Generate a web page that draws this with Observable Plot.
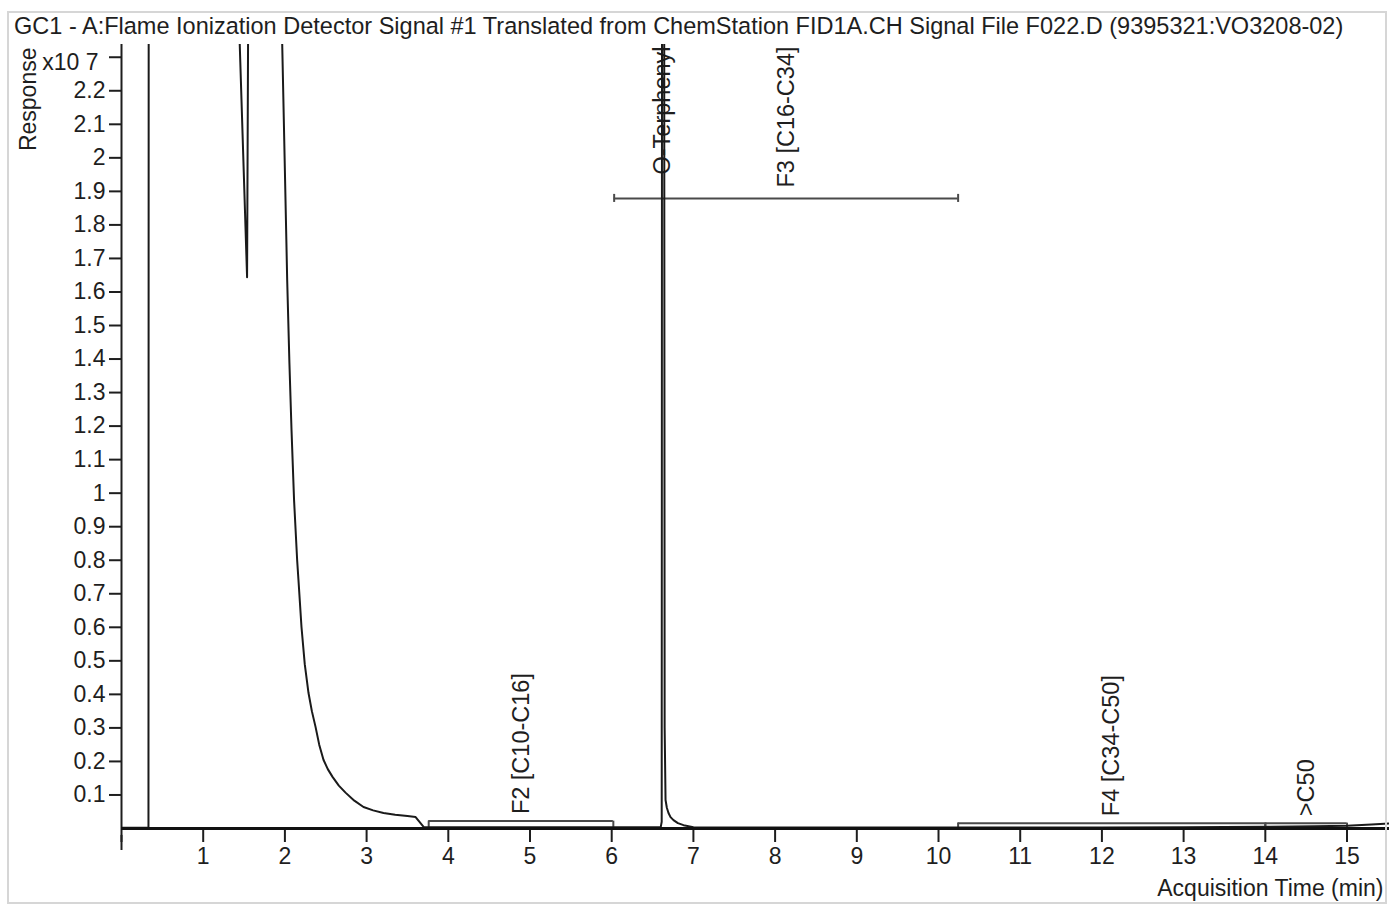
<!DOCTYPE html>
<html><head><meta charset="utf-8">
<script src="https://cdn.jsdelivr.net/npm/d3@7"></script>
<script src="https://cdn.jsdelivr.net/npm/@observablehq/plot@0.6"></script>
<style>
html,body{margin:0;padding:0;background:#fff;overflow:hidden;}
#wrap{position:relative;width:1389px;height:906px;font-family:"Liberation Sans",Arial,sans-serif;}
#title{height:40px;box-sizing:border-box;padding:14.5px 0 0 14px;font-size:23px;line-height:23px;color:#1e1e1e;white-space:nowrap;}
#frame{position:absolute;left:7px;top:11px;width:1376px;height:889px;border:2px solid #d6d6d6;pointer-events:none;}
svg{display:block}
</style></head><body>
<div id="wrap"><div id="frame"></div><div id="title"></div><div id="chart"></div></div>
<script>
// ---- data ----
const titleText = "GC1 - A:Flame Ionization Detector Signal #1 Translated from ChemStation FID1A.CH Signal File F022.D (9395321:VO3208-02)";
const yAxisLabel = "Response";
const yExponent = "x10 7";
const xAxisLabel = "Acquisition Time (min)";

const xTicks = [0,1,2,3,4,5,6,7,8,9,10,11,12,13,14,15];
const yTicks = [0.1,0.2,0.3,0.4,0.5,0.6,0.7,0.8,0.9,1.0,1.1,1.2,1.3,1.4,1.5,1.6,1.7,1.8,1.9,2.0,2.1,2.2,2.3];

// signal (time in min, response in x10^7); values above 2.34 are off-scale
const time = [0, 0.33, 0.333, 1.44, 1.447, 1.537, 1.549, 1.555, 1.96, 1.967, 2.0, 2.028, 2.055, 2.081, 2.112, 2.150, 2.166, 2.203, 2.243, 2.289, 2.33, 2.375, 2.42, 2.472, 2.525, 2.583, 2.66, 2.742, 2.85, 2.962, 3.08, 3.207, 3.35, 3.50, 3.60, 3.70, 3.75, 4.5, 5.5, 6.2, 6.60, 6.612, 6.616, 6.642, 6.648, 6.659, 6.675, 6.695, 6.72, 6.756, 6.81, 6.879, 7.0, 8, 9, 10, 11, 12, 13, 14, 14.6, 15.0, 15.3, 15.52];
const response = [0.002, 0.002, 2.6, 2.6, 2.34, 1.644, 2.34, 2.6, 2.6, 2.34, 1.96, 1.635, 1.39, 1.188, 0.98, 0.800, 0.741, 0.601, 0.49, 0.404, 0.35, 0.303, 0.25, 0.205, 0.177, 0.154, 0.128, 0.107, 0.083, 0.064, 0.054, 0.046, 0.041, 0.037, 0.034, 0.004, 0.004, 0.004, 0.004, 0.004, 0.004, 0.02, 2.6, 2.6, 0.3, 0.085, 0.062, 0.046, 0.034, 0.025, 0.016, 0.010, 0.004, 0.003, 0.003, 0.003, 0.003, 0.003, 0.004, 0.005, 0.007, 0.008, 0.012, 0.015];

// integration ranges
const rangeNames = ["F2 [C10-C16]", "F3 [C16-C34]", "F4 [C34-C50]", ">C50"];
const rangeStart = [3.76, 6.03, 10.24, 14.0];
const rangeEnd = [6.02, 10.24, 14.0, 15.0];
const rangeLevel = [0.022, 1.879, 0.016, 0.016];

// named peaks
const peakNames = ["O-Terphenyl"];
const peakTimes = [6.62];

// ---- build ----
const signal = time.map((t, i) => ({t, v: response[i]}));
const ranges = rangeNames.map((name, i) => ({name, start: rangeStart[i], end: rangeEnd[i], level: rangeLevel[i], mid: (rangeStart[i] + rangeEnd[i]) / 2}));
const rangeEnds = ranges.flatMap(r => [r.start, r.end].map(x => ({
  x, y1: r.level > 1 ? r.level - 0.012 : 0, y2: r.level > 1 ? r.level + 0.012 : r.level
})));
const lowRanges = ranges.filter(r => r.level < 1);
const topLabels = peakNames.map((name, i) => ({name, x: peakTimes[i]}))
  .concat(ranges.filter(r => r.level >= 1).map(r => ({name: r.name, x: r.mid})));

const FONT = '"Liberation Sans", Arial, sans-serif';
const INK = "#1e1e1e";

// fit title width
const titleEl = document.getElementById("title");
titleEl.textContent = titleText;
const ctx = document.createElement("canvas").getContext("2d");
ctx.font = '100px "Liberation Sans", Arial, sans-serif';
const tw = ctx.measureText(titleText).width;
titleEl.style.fontSize = (100 * 1331 / tw).toFixed(2) + "px";

const chart = Plot.plot({
  width: 1389, height: 866,
  marginLeft: 121, marginRight: 0, marginTop: 4, marginBottom: 78,
  x: {domain: [0, 15.52]},
  y: {domain: [0, 2.338]},
  style: {fontFamily: FONT, fontSize: "23px", color: INK, background: "transparent", overflow: "visible"},
  marks: [
    Plot.axisX({ticks: xTicks, tickSize: 14, tickPadding: 5, tickFormat: d => d === 0 ? "" : String(d), label: null, strokeWidth: 2, fontSize: 23, stroke: INK, fill: INK}),
    Plot.axisY({ticks: yTicks, tickSize: 12, tickPadding: 4, tickFormat: d => Math.abs(d - 2.3) < 1e-9 ? "" : String(+d.toFixed(1)), label: null, strokeWidth: 2, fontSize: 23, stroke: INK, fill: INK}),
    Plot.ruleX([0], {stroke: INK, strokeWidth: 2}),
    Plot.ruleX([0], {y1: 0, y2: 0.045, dy: 22, stroke: INK, strokeWidth: 2}),
    Plot.text([yAxisLabel], {text: d => d, frameAnchor: "top-left", dx: -93, dy: 3, rotate: -90, textAnchor: "end", lineAnchor: "middle", fontSize: 23, fill: INK}),
    Plot.text([yExponent], {text: d => d, frameAnchor: "top-left", dx: -23, dy: 18, textAnchor: "end", lineAnchor: "middle", fontSize: 23, fill: INK}),
    Plot.text([xAxisLabel], {text: d => d, frameAnchor: "bottom-right", dx: -6, dy: 60, textAnchor: "end", lineAnchor: "middle", fontSize: 23, fill: INK}),
    // range brackets
    Plot.ruleY(ranges, {y: "level", x1: "start", x2: "end", stroke: "#4a4a4a", strokeWidth: 2}),
    Plot.ruleX(rangeEnds, {x: "x", y1: "y1", y2: "y2", stroke: "#4a4a4a", strokeWidth: 2}),
    // labels
    Plot.text(lowRanges, {x: "mid", y: "level", text: "name", rotate: -90, textAnchor: "start", lineAnchor: "middle", dy: -7, fontSize: 23.5, fill: INK}),
    Plot.text(topLabels, {x: "x", text: "name", frameAnchor: "top", rotate: -90, textAnchor: "end", lineAnchor: "middle", dy: 2, fontSize: 23.5, fill: INK}),
    // signal
    Plot.line(signal, {x: "t", y: "v", stroke: "#1a1a1a", strokeWidth: 2, clip: true}),
    Plot.ruleY([0], {stroke: "#111", strokeWidth: 3})
  ]
});
document.getElementById("chart").appendChild(chart);
</script>
</body></html>
